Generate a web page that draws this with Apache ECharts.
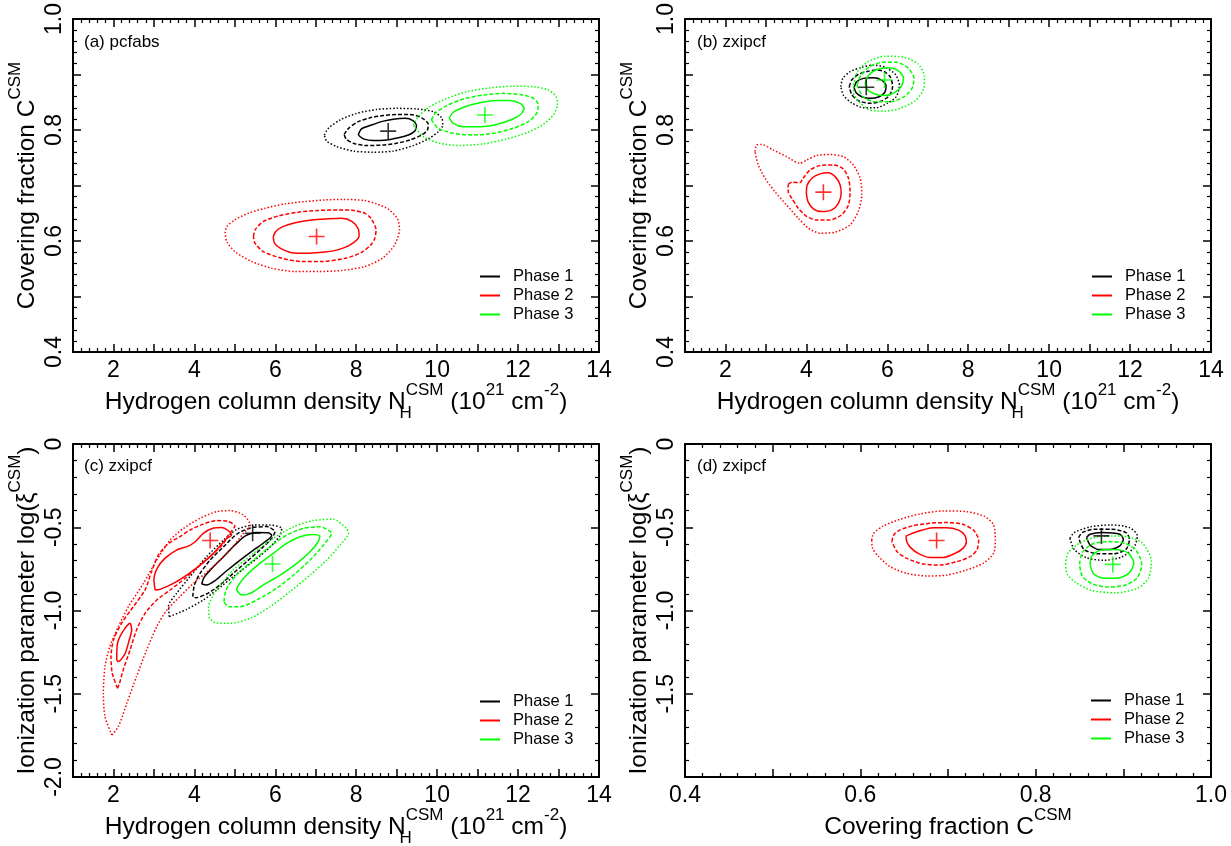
<!DOCTYPE html>
<html>
<head>
<meta charset="utf-8">
<script src="https://cdn.jsdelivr.net/npm/echarts@6/dist/echarts.min.js"></script>
<style>html,body{margin:0;padding:0;background:#fff}#c{width:1231px;height:846px}</style>
</head>
<body>
<div id="c"></div>
<script>
// ---------- tick labels ----------
const xLabelsN = [2, 4, 6, 8, 10, 12, 14];
const yLabelsC = [0.4, 0.6, 0.8, 1.0];
const yLabelsXiC = [-2.0, -1.5, -1.0, -0.5, 0];
const yLabelsXiD = [-1.5, -1.0, -0.5, 0];
const xLabelsC = [0.4, 0.6, 0.8, 1.0];
const phases = ['Phase 1', 'Phase 2', 'Phase 3'];
const panelLabels = ['(a) pcfabs', '(b) zxipcf', '(c) zxipcf', '(d) zxipcf'];

// ---------- panel (a): N_H vs C (pcfabs) ----------
const a_k1 = [[8.05,0.791],[8.13,0.802],[8.38,0.809],[8.67,0.816],[8.96,0.820],[9.21,0.821],[9.40,0.817],[9.49,0.808],[9.45,0.798],[9.29,0.791],[9.04,0.786],[8.75,0.782],[8.42,0.781],[8.18,0.784],[8.05,0.791]];
const a_k2 = [[7.70,0.792],[7.81,0.803],[8.05,0.815],[8.34,0.822],[8.67,0.826],[8.99,0.828],[9.33,0.828],[9.62,0.822],[9.78,0.810],[9.76,0.800],[9.62,0.791],[9.33,0.782],[8.99,0.776],[8.67,0.773],[8.26,0.772],[7.93,0.776],[7.75,0.784],[7.70,0.792]];
const a_k3 = [[7.21,0.791],[7.31,0.803],[7.60,0.818],[8.01,0.830],[8.51,0.837],[9.00,0.839],[9.49,0.838],[9.91,0.833],[10.11,0.822],[10.14,0.809],[10.03,0.797],[9.78,0.784],[9.41,0.772],[8.92,0.762],[8.42,0.760],[7.93,0.762],[7.52,0.770],[7.27,0.780],[7.21,0.791]];
const a_r1 = [[5.95,0.608],[6.01,0.617],[6.16,0.625],[6.49,0.633],[6.90,0.638],[7.31,0.640],[7.64,0.641],[7.90,0.635],[8.05,0.622],[8.07,0.608],[7.85,0.593],[7.54,0.584],[7.23,0.580],[6.82,0.578],[6.40,0.579],[6.12,0.587],[5.98,0.596],[5.95,0.608]];
const a_r2 = [[5.46,0.608],[5.50,0.620],[5.70,0.635],[6.07,0.645],[6.57,0.652],[7.06,0.655],[7.56,0.656],[7.95,0.655],[8.21,0.650],[8.36,0.641],[8.49,0.620],[8.46,0.605],[8.36,0.593],[8.12,0.579],[7.73,0.569],[7.15,0.563],[6.65,0.563],[6.16,0.569],[5.70,0.581],[5.50,0.596],[5.46,0.608]];
const a_r3 = [[4.76,0.614],[4.80,0.626],[5.00,0.638],[5.33,0.650],[5.75,0.659],[6.24,0.667],[6.73,0.671],[7.23,0.674],[7.68,0.675],[8.20,0.673],[8.50,0.667],[8.80,0.657],[9.02,0.640],[9.07,0.620],[8.94,0.592],[8.65,0.569],[8.21,0.554],[7.64,0.547],[7.06,0.545],[6.49,0.545],[5.91,0.551],[5.42,0.563],[5.00,0.581],[4.80,0.599],[4.76,0.614]];
const a_g1 = [[10.30,0.822],[10.40,0.832],[10.69,0.842],[11.06,0.849],[11.47,0.853],[11.80,0.853],[12.05,0.848],[12.15,0.839],[12.06,0.828],[11.84,0.819],[11.47,0.810],[11.06,0.806],[10.65,0.806],[10.40,0.812],[10.30,0.822]];
const a_g2 = [[9.86,0.818],[9.95,0.830],[10.24,0.844],[10.65,0.856],[11.14,0.863],[11.64,0.866],[12.05,0.864],[12.38,0.857],[12.50,0.845],[12.46,0.830],[12.25,0.815],[11.88,0.803],[11.39,0.794],[10.89,0.791],[10.40,0.794],[10.03,0.803],[9.86,0.818]];
const a_g3 = [[9.41,0.809],[9.53,0.824],[9.82,0.842],[10.24,0.857],[10.73,0.869],[11.31,0.876],[11.88,0.879],[12.38,0.878],[12.75,0.872],[12.94,0.860],[12.97,0.845],[12.87,0.827],[12.62,0.810],[12.25,0.796],[11.72,0.784],[11.14,0.775],[10.57,0.772],[10.07,0.776],[9.66,0.788],[9.41,0.809]];
const a_best = [[8.79,0.798],[7.02,0.608],[11.18,0.827]];

// ---------- panel (b): N_H vs C (zxipcf) ----------
const b_k1 = [[5.18,0.876],[5.24,0.887],[5.41,0.893],[5.65,0.894],[5.86,0.890],[5.97,0.880],[5.94,0.868],[5.80,0.860],[5.57,0.857],[5.37,0.860],[5.23,0.867],[5.18,0.876]];
const b_k2 = [[5.06,0.878],[5.12,0.890],[5.28,0.900],[5.53,0.906],[5.75,0.908],[5.93,0.905],[6.08,0.895],[6.13,0.878],[6.05,0.862],[5.85,0.852],[5.57,0.848],[5.28,0.853],[5.12,0.864],[5.06,0.878]];
const b_k3 = [[4.85,0.878],[4.90,0.893],[5.08,0.905],[5.37,0.913],[5.65,0.917],[5.95,0.913],[6.20,0.900],[6.30,0.880],[6.22,0.860],[6.00,0.848],[5.72,0.840],[5.41,0.840],[5.12,0.849],[4.92,0.862],[4.85,0.878]];
const b_r1 = [[4.00,0.686],[4.02,0.701],[4.15,0.714],[4.34,0.721],[4.54,0.723],[4.71,0.716],[4.83,0.702],[4.86,0.686],[4.79,0.668],[4.63,0.656],[4.38,0.653],[4.17,0.658],[4.04,0.671],[4.00,0.686]];
const b_r2 = [[3.55,0.702],[3.64,0.706],[3.84,0.705],[3.92,0.713],[4.09,0.728],[4.34,0.736],[4.67,0.737],[4.91,0.730],[5.04,0.713],[5.08,0.689],[5.04,0.665],[4.87,0.647],[4.58,0.638],[4.25,0.638],[4.01,0.644],[3.80,0.659],[3.64,0.677],[3.55,0.689],[3.55,0.702]];
const b_r3 = [[2.73,0.761],[2.77,0.773],[2.89,0.774],[3.18,0.764],[3.51,0.752],[3.84,0.740],[4.01,0.746],[4.25,0.754],[4.58,0.756],[4.91,0.752],[5.16,0.737],[5.33,0.713],[5.37,0.683],[5.28,0.653],[5.08,0.629],[4.71,0.616],[4.34,0.614],[4.05,0.623],[3.80,0.641],[3.51,0.665],[3.22,0.689],[2.98,0.713],[2.81,0.737],[2.73,0.761]];
const b_g1 = [[5.45,0.884],[5.54,0.899],[5.74,0.909],[6.03,0.912],[6.27,0.907],[6.40,0.894],[6.35,0.879],[6.17,0.867],[5.93,0.862],[5.69,0.865],[5.52,0.872],[5.45,0.884]];
const b_g2 = [[5.25,0.881],[5.35,0.899],[5.54,0.913],[5.88,0.922],[6.22,0.922],[6.51,0.912],[6.66,0.893],[6.61,0.875],[6.42,0.860],[6.08,0.851],[5.69,0.851],[5.40,0.860],[5.25,0.881]];
const b_g3 = [[5.17,0.881],[5.25,0.904],[5.50,0.922],[5.93,0.933],[6.42,0.931],[6.76,0.919],[6.92,0.896],[6.90,0.875],[6.71,0.854],[6.32,0.839],[5.93,0.834],[5.54,0.837],[5.30,0.851],[5.17,0.866],[5.17,0.881]];
const b_best = [[5.48,0.877],[4.42,0.688],[5.93,0.890]];

// ---------- panel (c): N_H vs log xi ----------
const c_k1 = [[4.18,-0.841],[4.24,-0.801],[4.43,-0.747],[4.72,-0.677],[5.00,-0.607],[5.25,-0.553],[5.54,-0.531],[5.83,-0.533],[5.91,-0.549],[5.75,-0.587],[5.46,-0.637],[5.13,-0.697],[4.80,-0.761],[4.51,-0.821],[4.30,-0.847],[4.18,-0.841]];
const c_k2 = [[3.96,-0.917],[4.00,-0.847],[4.14,-0.777],[4.39,-0.697],[4.72,-0.617],[5.05,-0.541],[5.39,-0.504],[5.79,-0.496],[5.99,-0.527],[5.91,-0.567],[5.66,-0.627],[5.29,-0.707],[4.96,-0.777],[4.63,-0.847],[4.30,-0.901],[4.04,-0.923],[3.96,-0.917]];
const c_k3 = [[3.38,-1.037],[3.36,-0.973],[3.56,-0.897],[3.89,-0.797],[4.30,-0.677],[4.72,-0.577],[5.05,-0.513],[5.46,-0.487],[5.87,-0.487],[6.16,-0.507],[6.10,-0.557],[5.79,-0.637],[5.39,-0.717],[4.96,-0.797],[4.55,-0.877],[4.22,-0.937],[3.81,-0.993],[3.38,-1.037]];
const c_r1 = [[3.03,-0.877],[3.00,-0.817],[3.08,-0.747],[3.27,-0.687],[3.56,-0.637],[3.85,-0.613],[4.02,-0.587],[4.22,-0.537],[4.47,-0.505],[4.67,-0.501],[4.84,-0.521],[4.92,-0.547],[4.80,-0.567],[4.47,-0.657],[4.14,-0.727],[3.81,-0.787],[3.48,-0.837],[3.15,-0.873],[3.03,-0.877]];
const c_r1b = [[2.08,-1.297],[2.10,-1.197],[2.23,-1.127],[2.41,-1.077],[2.45,-1.117],[2.39,-1.177],[2.29,-1.257],[2.12,-1.307],[2.08,-1.297]];
const c_r2 = [[2.10,-1.467],[1.97,-1.377],[1.94,-1.277],[2.00,-1.177],[2.20,-1.077],[2.49,-0.977],[2.78,-0.877],[2.94,-0.767],[3.11,-0.667],[3.36,-0.597],[3.64,-0.557],[3.89,-0.517],[4.22,-0.481],[4.55,-0.460],[4.84,-0.466],[5.00,-0.492],[4.84,-0.547],[4.72,-0.597],[4.43,-0.667],[4.10,-0.737],[3.77,-0.807],[3.40,-0.877],[3.07,-0.937],[2.78,-1.017],[2.57,-1.117],[2.41,-1.237],[2.24,-1.357],[2.15,-1.437],[2.10,-1.467]];
const c_r3 = [[1.96,-1.748],[1.79,-1.638],[1.75,-1.497],[1.79,-1.337],[1.91,-1.217],[2.12,-1.097],[2.37,-0.977],[2.74,-0.837],[3.07,-0.697],[3.40,-0.577],[3.73,-0.507],[4.14,-0.446],[4.55,-0.406],[4.88,-0.400],[5.21,-0.426],[5.38,-0.486],[5.21,-0.537],[4.88,-0.637],[4.47,-0.737],[4.02,-0.827],[3.64,-0.917],[3.32,-0.997],[3.07,-1.097],[2.82,-1.237],[2.57,-1.397],[2.33,-1.557],[2.12,-1.698],[1.96,-1.748]];
const c_g1 = [[5.04,-0.877],[5.09,-0.847],[5.29,-0.787],[5.62,-0.717],[5.95,-0.657],[6.28,-0.597],[6.61,-0.557],[6.94,-0.543],[7.10,-0.553],[7.06,-0.587],[6.86,-0.647],[6.53,-0.717],[6.12,-0.787],[5.70,-0.847],[5.38,-0.897],[5.17,-0.907],[5.04,-0.877]];
const c_g2 = [[4.73,-0.947],[4.78,-0.877],[5.04,-0.787],[5.46,-0.697],[5.87,-0.617],[6.28,-0.547],[6.69,-0.507],[7.10,-0.497],[7.39,-0.537],[7.19,-0.607],[6.86,-0.697],[6.45,-0.787],[6.03,-0.867],[5.54,-0.937],[5.13,-0.977],[4.84,-0.977],[4.73,-0.947]];
const c_g3 = [[4.37,-1.047],[4.35,-0.977],[4.55,-0.877],[4.96,-0.757],[5.46,-0.657],[5.95,-0.567],[6.45,-0.497],[6.94,-0.460],[7.43,-0.452],[7.76,-0.507],[7.81,-0.537],[7.60,-0.607],[7.27,-0.697],[6.86,-0.787],[6.36,-0.887],[5.87,-0.977],[5.38,-1.047],[4.88,-1.077],[4.51,-1.073],[4.37,-1.047]];
const c_best = [[5.44,-0.536],[4.39,-0.580],[5.93,-0.721]];

// ---------- panel (d): C vs log xi ----------
const d_k1 = [[0.858,-0.562],[0.862,-0.542],[0.876,-0.532],[0.896,-0.542],[0.900,-0.572],[0.896,-0.612],[0.885,-0.633],[0.871,-0.633],[0.862,-0.606],[0.858,-0.562]];
const d_k2 = [[0.849,-0.562],[0.853,-0.532],[0.867,-0.512],[0.887,-0.512],[0.903,-0.532],[0.907,-0.572],[0.903,-0.633],[0.889,-0.659],[0.871,-0.659],[0.855,-0.633],[0.849,-0.562]];
const d_k3 = [[0.839,-0.566],[0.844,-0.532],[0.862,-0.498],[0.885,-0.486],[0.907,-0.502],[0.916,-0.552],[0.912,-0.622],[0.898,-0.679],[0.878,-0.699],[0.858,-0.683],[0.844,-0.633],[0.839,-0.566]];
const d_r1 = [[0.652,-0.553],[0.653,-0.587],[0.657,-0.621],[0.666,-0.657],[0.679,-0.681],[0.695,-0.681],[0.708,-0.657],[0.717,-0.627],[0.721,-0.587],[0.719,-0.547],[0.712,-0.517],[0.698,-0.503],[0.683,-0.503],[0.668,-0.521],[0.657,-0.541],[0.652,-0.553]];
const d_r2 = [[0.636,-0.587],[0.638,-0.547],[0.645,-0.517],[0.660,-0.491],[0.679,-0.476],[0.699,-0.472],[0.716,-0.481],[0.729,-0.517],[0.735,-0.577],[0.733,-0.637],[0.725,-0.677],[0.710,-0.707],[0.691,-0.727],[0.672,-0.721],[0.653,-0.687],[0.642,-0.647],[0.636,-0.587]];
const d_r3 = [[0.613,-0.577],[0.615,-0.537],[0.626,-0.493],[0.645,-0.453],[0.668,-0.420],[0.695,-0.402],[0.721,-0.406],[0.742,-0.436],[0.752,-0.486],[0.754,-0.577],[0.752,-0.657],[0.740,-0.717],[0.721,-0.757],[0.699,-0.787],[0.676,-0.793],[0.653,-0.777],[0.634,-0.737],[0.621,-0.677],[0.614,-0.627],[0.613,-0.577]];
const d_g1 = [[0.862,-0.723],[0.864,-0.673],[0.873,-0.639],[0.889,-0.633],[0.905,-0.653],[0.912,-0.713],[0.907,-0.773],[0.896,-0.803],[0.878,-0.807],[0.866,-0.779],[0.862,-0.723]];
const d_g2 = [[0.850,-0.723],[0.853,-0.653],[0.864,-0.602],[0.882,-0.586],[0.903,-0.598],[0.915,-0.643],[0.921,-0.723],[0.916,-0.803],[0.903,-0.847],[0.882,-0.859],[0.864,-0.839],[0.853,-0.793],[0.850,-0.723]];
const d_g3 = [[0.834,-0.723],[0.837,-0.653],[0.851,-0.592],[0.871,-0.558],[0.898,-0.552],[0.921,-0.592],[0.932,-0.703],[0.929,-0.803],[0.916,-0.867],[0.891,-0.894],[0.864,-0.880],[0.846,-0.833],[0.836,-0.783],[0.834,-0.723]];
const d_best = [[0.875,-0.552],[0.687,-0.580],[0.888,-0.723]];

// ---------- styling ----------
const FONT = "'Liberation Sans', Arial, Helvetica, sans-serif";
const COLORS = ['#000000', '#ff0000', '#00ff00'];
const DASH = { solid: 'solid', dashed: [4, 2], dotted: [1.5, 2] };
const GRIDS = [
  { left: 73, top: 19, width: 526, height: 333 },
  { left: 685, top: 19, width: 526, height: 333 },
  { left: 73, top: 444, width: 526, height: 333 },
  { left: 685, top: 444, width: 526, height: 333 }
];
const nameRich = {
  m: { fontSize: 24.5, lineHeight: 40, fontFamily: FONT, color: '#000' },
  sup: { fontSize: 17, lineHeight: 19, verticalAlign: 'top', fontFamily: FONT, color: '#000' },
  sub: { fontSize: 17, lineHeight: 22, verticalAlign: 'bottom', width: 0, fontFamily: FONT, color: '#000' }
};
const T_NH = '{m|Hydrogen column density N}{sub|H}{sup|CSM}{m| (10}{sup|21}{m| cm}{sup|-2}{m|)}';
const T_C = '{m|Covering fraction C}{sup|CSM}';
const T_XI = '{m|Ionization parameter log(ξ}{sup|CSM}{m|)}';

function fmtN(v) { return String(v); }
function fmt1(v) { return v === 0 ? '0' : v.toFixed(1); }

function axis(gi, pos, min, max, interval, labels, fmt, name, nameGap) {
  const main = pos === 'bottom' || pos === 'left';
  const isY = pos === 'left' || pos === 'right';
  return {
    type: 'value', gridIndex: gi, position: pos, min, max, interval,
    axisLine: { show: true, onZero: false, lineStyle: { color: '#000', width: 2 } },
    axisTick: { show: true, inside: true, length: 8, lineStyle: { color: '#000', width: 1.5 } },
    minorTick: { show: true, splitNumber: 5, length: 4, lineStyle: { color: '#000', width: 1.2 } },
    splitLine: { show: false }, minorSplitLine: { show: false },
    axisLabel: main ? {
      show: true, rotate: isY ? 90 : 0, margin: 7, fontSize: 23, color: '#000', fontFamily: FONT,
      formatter: function (v) {
        const hit = labels.find(l => Math.abs(l - v) < 1e-6);
        return hit === undefined ? '' : fmt(hit);
      }
    } : { show: false },
    name: main ? name : '', nameLocation: 'middle', nameGap: nameGap, nameMoveOverlap: false,
    nameTextStyle: { fontSize: 24.5, lineHeight: 40, fontFamily: FONT, color: '#000', rich: nameRich }
  };
}

const xAxes = [], yAxes = [];
xAxes.push(axis(0, 'bottom', 1, 14, 1, xLabelsN, fmtN, T_NH, 30), axis(0, 'top', 1, 14, 1, [], fmtN, '', 0));
yAxes.push(axis(0, 'left', 0.4, 1.0, 0.1, yLabelsC, fmt1, T_C, 26), axis(0, 'right', 0.4, 1.0, 0.1, [], fmt1, '', 0));
xAxes.push(axis(1, 'bottom', 1, 14, 1, xLabelsN, fmtN, T_NH, 30), axis(1, 'top', 1, 14, 1, [], fmtN, '', 0));
yAxes.push(axis(1, 'left', 0.4, 1.0, 0.1, yLabelsC, fmt1, T_C, 26), axis(1, 'right', 0.4, 1.0, 0.1, [], fmt1, '', 0));
xAxes.push(axis(2, 'bottom', 1, 14, 1, xLabelsN, fmtN, T_NH, 30), axis(2, 'top', 1, 14, 1, [], fmtN, '', 0));
yAxes.push(axis(2, 'left', -2, 0, 0.5, yLabelsXiC, fmt1, T_XI, 26), axis(2, 'right', -2, 0, 0.5, [], fmt1, '', 0));
xAxes.push(axis(3, 'bottom', 0.4, 1.0, 0.1, xLabelsC, fmt1, T_C, 30), axis(3, 'top', 0.4, 1.0, 0.1, [], fmt1, '', 0));
yAxes.push(axis(3, 'left', -2, 0, 0.5, yLabelsXiD, fmt1, T_XI, 26), axis(3, 'right', -2, 0, 0.5, [], fmt1, '', 0));

const series = [];
function contour(gi, phase, level, data) {
  series.push({
    type: 'line', name: level === 'solid' ? phases[phase] : phases[phase] + ' ' + level,
    xAxisIndex: 2 * gi, yAxisIndex: 2 * gi, data: data, symbol: 'none', showSymbol: false,
    smooth: 0.25, silent: true, animation: false,
    lineStyle: { color: COLORS[phase], width: 1.5, type: DASH[level], cap: 'butt' },
    itemStyle: { color: COLORS[phase] }
  });
}
function best(gi, pts) {
  pts.forEach((p, i) => series.push({
    type: 'scatter', name: 'best fit ' + (i + 1), xAxisIndex: 2 * gi, yAxisIndex: 2 * gi,
    data: [p], symbol: 'path://M9,0H11V20H9Z M0,9H20V11H0Z', symbolSize: 16,
    itemStyle: { color: COLORS[i] }, silent: true, animation: false, z: 5
  }));
}
const panels = [
  [[a_k1, a_k2, a_k3], [a_r1, a_r2, a_r3], [a_g1, a_g2, a_g3], a_best],
  [[b_k1, b_k2, b_k3], [b_r1, b_r2, b_r3], [b_g1, b_g2, b_g3], b_best],
  [[c_k1, c_k2, c_k3], [c_r1, c_r2, c_r3], [c_g1, c_g2, c_g3], c_best],
  [[d_k1, d_k2, d_k3], [d_r1, d_r2, d_r3], [d_g1, d_g2, d_g3], d_best]
];
const levels = ['solid', 'dashed', 'dotted'];
panels.forEach((p, gi) => {
  for (let ph = 0; ph < 3; ph++) {
    for (let lv = 0; lv < 3; lv++) contour(gi, ph, levels[lv], p[ph][lv]);
  }
  if (gi === 2) contour(2, 1, 'solid', c_r1b);
  best(gi, p[3]);
});

const legendPos = [[480, 268], [1092, 268], [480, 693], [1091, 692]];
const titlePos = [[84, 34], [697, 34], [84, 458], [697, 458]];

const chart = echarts.init(document.getElementById('c'), null, { renderer: 'canvas' });
chart.setOption({
  backgroundColor: '#ffffff',
  animation: false,
  title: titlePos.map((p, i) => ({
    text: panelLabels[i], left: p[0], top: p[1], padding: 0,
    textStyle: { fontSize: 17, fontWeight: 'normal', fontFamily: FONT, color: '#000' }
  })),
  legend: legendPos.map(p => ({
    data: phases.map(n => ({ name: n, icon: 'rect' })), orient: 'vertical', left: p[0], top: p[1], padding: 0,
    itemWidth: 20, itemHeight: 2, itemGap: 2, selectedMode: false,
    textStyle: { fontSize: 16.5, fontFamily: FONT, color: '#000', padding: [0, 0, 0, 8] }
  })),
  grid: GRIDS.map(g => Object.assign({ containLabel: false, outerBoundsMode: 'none' }, g)),
  xAxis: xAxes,
  yAxis: yAxes,
  series: series
});
</script>
</body>
</html>
